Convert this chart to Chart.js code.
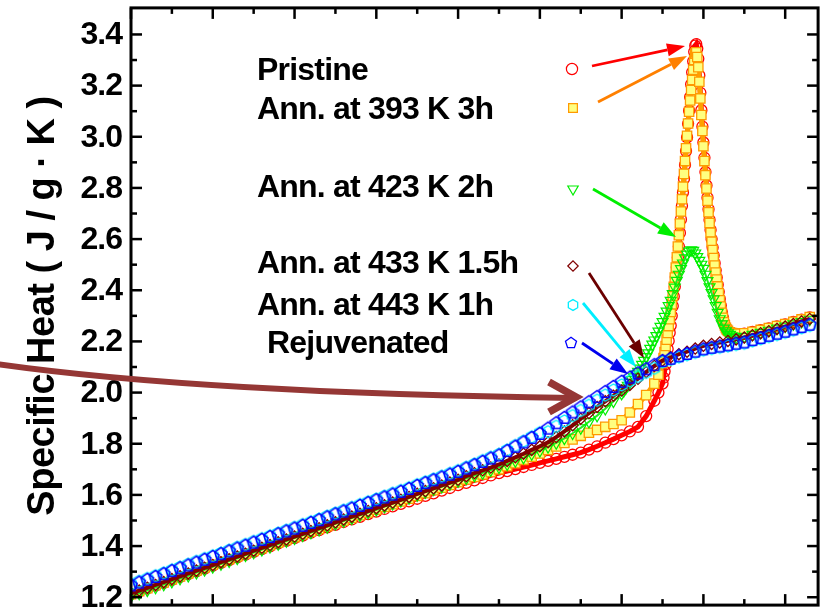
<!DOCTYPE html>
<html>
<head>
<meta charset="utf-8">
<script src="https://cdn.jsdelivr.net/npm/chart.js@4.4.0/dist/chart.umd.min.js"></script>
<style>
  html, body { margin: 0; padding: 0; background: #fff; }
  canvas { display: block; }
</style>
</head>
<body>
<canvas id="cpChart" width="826" height="613"></canvas>
<script>
// series names as printed on the figure
const seriesNames = ['Pristine', 'Ann. at 393 K 3h', 'Ann. at 423 K 2h', 'Ann. at 433 K 1.5h', 'Ann. at 443 K 1h', 'Rejuvenated'];

// temperature grids (K)
const tempLow = [300,302,304,306,308,310,312,314,316,318,320,322,324,326,328,330,332,334,336,338,340,342,344,346,348,350,352,354,356,358,360,362,364,366,368,370,372,374,376,378,380,382,384,386,388,390,392,394,396,398,400,402,404,406,408,410,412,414,416,418,420,422,424,426,428];
const tempTail = [430,432,434,436,438,440,442,444,446,448,450,452,454,456,458,460,462,464,466];
const tempFine = [430,430.25,430.5,430.75,431,431.25,431.5,431.75,432,432.25,432.5,432.75,433,433.25,433.5,433.75,434,434.25,434.5,434.75,435,435.25,435.5,435.75,436,436.25,436.5,436.75,437,437.25,437.5,437.75,438,438.25,438.5,438.75,439,439.25,439.5,439.75,440,440.25,440.5,440.75,441,441.25,441.5,441.75,442,442.25,442.5,442.75,443,443.25,443.5,443.75,444,444.25,444.5,444.75,445,445.25,445.5,445.75,446];
const tempHalf = [420.5,421,421.5,422,422.5,423,423.5,424,424.5,425,425.5,426,426.5,427,427.5,428,428.5,429,429.5,430,430.5,431,431.5,432,432.5,433,433.5,434,434.5,435,435.5,436,436.5,437,437.5,438,438.5,439,439.5,440,440.5,441,441.5,442,442.5,443,443.5,444,444.5,445,445.5,446,446.5,447,447.5,448];
const tempEnd = [450,452,454,456,458,460,462,464,466];

const tempCoarse = tempLow.concat(tempTail);
const tempPeak = tempLow.concat([429], tempFine, [446.5,447,447.5,448], tempEnd);
const tempGreen = tempLow.slice(0, 61).concat(tempHalf, tempEnd);

// specific heat (J/g.K)
const cpRejuvenated = [1.246,1.257,1.268,1.279,1.290,1.302,1.313,1.324,1.335,1.346,1.357,1.368,1.379,1.390,1.401,1.413,1.424,1.435,1.446,1.457,1.468,1.479,1.490,1.501,1.512,1.524,1.535,1.546,1.557,1.568,1.579,1.590,1.601,1.612,1.623,1.635,1.646,1.657,1.668,1.679,1.690,1.703,1.716,1.729,1.742,1.754,1.771,1.788,1.805,1.822,1.838,
  1.859,1.880,1.901,1.922,1.942,1.962,1.982,2.002,2.022,2.042,2.058,2.075,2.091,2.107,
  2.123,2.132,2.142,2.151,2.160,2.169,2.175,2.180,2.185,2.191,2.196,2.205,2.213,2.222,2.230,2.238,2.247,2.256,2.265];

const cpAnn443 = [1.251,1.262,1.273,1.284,1.295,1.307,1.318,1.329,1.340,1.351,1.362,1.373,1.384,1.395,1.406,1.418,1.429,1.440,1.451,1.462,1.473,1.484,1.495,1.506,1.517,1.529,1.540,1.551,1.562,1.573,1.584,1.595,1.606,1.617,1.628,1.640,1.651,1.662,1.673,1.684,1.695,1.708,1.721,1.734,1.747,1.759,1.776,1.793,1.810,1.827,1.843,
  1.847,1.868,1.889,1.910,1.930,1.950,1.970,1.990,2.010,2.030,2.046,2.063,2.079,2.095,
  2.120,2.129,2.139,2.148,2.157,2.166,2.172,2.177,2.182,2.188,2.193,2.202,2.210,2.219,2.227,2.235,2.244,2.253,2.262];

const cpAnn433 = [1.215,1.226,1.237,1.248,1.259,1.271,1.282,1.293,1.304,1.315,1.326,1.337,1.348,1.359,1.370,1.382,1.393,1.404,1.415,1.426,1.437,1.448,1.459,1.470,1.481,1.493,1.504,1.515,1.526,1.537,1.548,1.559,1.570,1.581,1.592,1.604,1.615,1.626,1.637,1.648,1.659,
  1.673,1.685,1.696,1.707,1.719,1.733,1.747,1.761,1.776,
  1.790,1.806,1.826,1.848,1.872,1.898,1.920,1.944,1.966,1.988,2.008,2.030,2.054,2.080,2.104,2.125,2.138,2.150,2.160,2.172,2.183,2.190,2.196,2.202,2.208,2.215,2.224,2.232,2.240,2.249,2.258,2.268,2.278,2.288];

const cpAnn423 = [1.204,1.215,1.227,1.238,1.250,1.261,1.273,1.284,1.296,1.307,1.319,1.330,1.341,1.352,1.364,1.375,1.386,1.397,1.408,1.420,1.431,1.442,1.453,1.464,1.475,1.487,1.498,1.509,1.520,1.531,1.542,1.554,1.565,1.577,1.588,1.600,1.611,1.622,1.632,1.643,1.654,1.665,1.676,1.686,1.697,1.708,1.720,1.733,1.746,1.760,1.773,1.788,1.803,1.821,1.841,1.862,1.886,1.910,1.937,1.966,1.996,
  2.006,2.017,2.028,2.039,2.050,2.061,2.072,2.082,2.095,2.110,2.125,2.140,2.155,2.172,2.189,2.205,2.222,2.240,2.258,2.277,2.297,2.318,2.339,2.360,2.386,2.412,2.438,2.462,2.484,2.506,2.526,2.541,2.552,2.557,2.555,2.545,2.531,2.516,2.501,2.485,2.462,2.437,2.413,2.390,2.366,2.339,2.313,2.288,2.268,2.251,2.241,2.233,2.227,2.221,2.217,2.215,
  2.219,2.227,2.235,2.243,2.251,2.259,2.268,2.277,2.286];

const cpAnn393 = [1.212,1.224,1.235,1.247,1.258,1.270,1.281,1.293,1.304,1.316,1.327,1.338,1.349,1.359,1.370,1.381,1.392,1.403,1.413,1.424,1.435,1.446,1.456,1.467,1.478,1.489,1.499,1.510,1.521,1.531,1.542,1.553,1.564,1.574,1.585,1.596,1.607,1.618,1.628,1.639,1.650,1.660,1.670,1.680,1.690,1.700,1.712,1.724,1.737,1.749,1.762,1.776,1.789,1.803,1.817,1.831,
  1.843,1.854,1.866,1.877,1.892,1.922,1.955,1.990,2.035,
  2.070,
  2.115,2.135,2.158,2.182,2.207,2.233,2.260,2.287,2.315,2.345,2.378,2.413,2.450,2.489,2.529,2.571,2.615,2.661,2.708,2.756,2.805,2.855,2.905,2.955,3.004,3.052,3.098,3.142,3.183,3.222,3.262,3.300,3.325,3.330,3.312,3.272,3.215,3.150,3.085,3.023,2.963,2.905,2.850,2.798,2.750,2.705,2.663,2.625,2.590,2.557,2.526,2.497,2.469,2.442,2.415,2.388,2.361,2.336,2.312,2.292,2.275,2.262,2.253,2.246,2.241,
  2.236,2.233,2.231,2.230,
  2.232,2.238,2.245,2.252,2.260,2.268,2.277,2.286,2.295];

const cpPristine = [1.212,1.223,1.234,1.245,1.256,1.268,1.279,1.290,1.301,1.312,1.323,1.334,1.345,1.356,1.366,1.377,1.388,1.399,1.410,1.420,1.431,1.441,1.452,1.462,1.473,1.483,1.494,1.504,1.514,1.525,1.535,1.545,1.555,1.565,1.575,1.585,1.596,1.606,1.617,1.627,1.638,1.647,1.657,1.666,1.676,1.685,1.693,1.701,1.709,1.717,1.725,1.733,1.741,1.749,1.757,1.765,1.777,1.790,1.804,1.818,1.833,1.848,1.866,1.908,1.968,
  2.000,
  2.035,2.058,2.083,2.110,2.140,2.170,2.202,2.234,2.262,2.300,2.338,2.376,2.414,2.452,2.490,2.528,2.571,2.624,2.677,2.730,2.783,2.836,2.890,2.944,2.998,3.051,3.102,3.155,3.205,3.252,3.295,3.332,3.356,3.362,3.345,3.305,3.240,3.172,3.104,3.040,2.978,2.918,2.862,2.810,2.762,2.717,2.675,2.636,2.600,2.567,2.536,2.506,2.478,2.450,2.422,2.394,2.366,2.340,2.315,2.294,2.276,2.262,2.252,2.244,2.239,
  2.233,2.230,2.228,2.228,
  2.230,2.237,2.244,2.251,2.259,2.267,2.276,2.285,2.294];

// axis ticks
const yMajorTicks = [1.2,1.4,1.6,1.8,2.0,2.2,2.4,2.6,2.8,3.0,3.2,3.4];
const yMinorTicks = [1.3,1.5,1.7,1.9,2.1,2.3,2.5,2.7,2.9,3.1,3.3];
const xMajorTicks = [300,320,340,360,380,400,420,440,460];
const xMinorTicks = [310,330,350,370,390,410,430,450];

function polyMarker(sides, r, color, lw) {
  const c = document.createElement('canvas');
  c.width = 18; c.height = 18;
  const g = c.getContext('2d');
  g.strokeStyle = color;
  g.lineWidth = lw;
  g.beginPath();
  for (let i = 0; i < sides; i++) {
    const a = -Math.PI / 2 + i * 2 * Math.PI / sides;
    const px = 9 + r * Math.cos(a), py = 9 + r * Math.sin(a);
    if (i === 0) g.moveTo(px, py); else g.lineTo(px, py);
  }
  g.closePath();
  g.stroke();
  return c;
}
const pentagonMark = polyMarker(5, 6.6, '#0000ff', 1.5);
const hexagonMark = polyMarker(6, 6, '#00eeff', 1.4);
const pentagonKey = polyMarker(5, 5.8, '#0000ff', 1.3);
const hexagonKey = polyMarker(6, 5.4, '#00eeff', 1.3);

const pts = (t, v) => v.map((y, i) => ({ x: t[i], y: y }));

const markerStyles = [
  { pointStyle: 'circle', radius: 5.5, rotation: 0, border: '#ff0000', fill: 'rgba(0,0,0,0)', bw: 1.3 },
  { pointStyle: 'rect', radius: 6.6, rotation: 0, border: '#ff9900', fill: '#ffff80', bw: 1.3 },
  { pointStyle: 'triangle', radius: 6.3, rotation: 180, border: '#00ee00', fill: 'rgba(0,0,0,0)', bw: 1.2 },
  { pointStyle: 'rectRot', radius: 5.6, rotation: 0, border: '#800000', fill: 'rgba(0,0,0,0)', bw: 1.3 },
  { pointStyle: hexagonMark, radius: 6, rotation: 0, border: '#00eeff', fill: 'rgba(0,0,0,0)', bw: 1 },
  { pointStyle: pentagonMark, radius: 6, rotation: 0, border: '#0000ff', fill: 'rgba(0,0,0,0)', bw: 1 }
];
const keyStyles = ['circle', 'rect', 'triangle', 'rectRot', hexagonKey, pentagonKey];
const keyRadius = [5.6, 6.2, 6, 5.2, 6, 6];

function makeSet(i, data, order, lineColor, lineWidth) {
  const m = markerStyles[i];
  return {
    label: seriesNames[i],
    data: data,
    order: order,
    showLine: !!lineColor,
    borderColor: lineColor || m.border,
    borderWidth: lineWidth || 0,
    tension: 0,
    pointStyle: m.pointStyle,
    pointRadius: m.radius,
    pointRotation: m.rotation,
    pointBorderColor: m.border,
    pointBackgroundColor: m.fill,
    pointBorderWidth: m.bw
  };
}

const legendText = [
  [seriesNames[0], 257, 80],
  [seriesNames[1], 257, 119],
  [seriesNames[2], 257, 197],
  [seriesNames[3], 257, 273],
  [seriesNames[4], 257, 315],
  [seriesNames[5], 267, 353]
];
const legendMarks = [[572, 69], [573, 108], [573, 189], [573, 266], [573, 305], [571, 343]];
const arrows = [
  [592, 66, 685, 46, '#ff0000'],
  [598, 102, 687, 56, '#ff8000'],
  [593, 189, 676, 237, '#00ee00'],
  [589, 273, 644, 358, '#6b0000'],
  [583, 303, 636, 367, '#00eeff'],
  [582, 343, 628, 374, '#0000ee']
];

function drawArrow(ctx, x1, y1, x2, y2, color) {
  const ang = Math.atan2(y2 - y1, x2 - x1), L = 18, W = 6.5;
  const bx = x2 - L * Math.cos(ang), by = y2 - L * Math.sin(ang);
  ctx.strokeStyle = color;
  ctx.fillStyle = color;
  ctx.lineWidth = 2.8;
  ctx.beginPath(); ctx.moveTo(x1, y1); ctx.lineTo(bx, by); ctx.stroke();
  ctx.beginPath();
  ctx.moveTo(x2, y2);
  ctx.lineTo(bx + W * Math.sin(ang), by - W * Math.cos(ang));
  ctx.lineTo(bx - W * Math.sin(ang), by + W * Math.cos(ang));
  ctx.closePath(); ctx.fill();
}

const frameAndNotes = {
  id: 'frameAndNotes',
  afterDraw(chart) {
    const { ctx, chartArea: a, scales: { x, y } } = chart;
    ctx.save();
    ctx.strokeStyle = '#000';
    ctx.lineWidth = 2.5;
    const seg = (x1, y1, x2, y2) => { ctx.beginPath(); ctx.moveTo(x1, y1); ctx.lineTo(x2, y2); ctx.stroke(); };
    yMajorTicks.forEach(v => { const p = y.getPixelForValue(v); seg(a.left, p, a.left + 11, p); seg(a.right, p, a.right - 11, p); });
    yMinorTicks.forEach(v => { const p = y.getPixelForValue(v); seg(a.left, p, a.left + 6, p); seg(a.right, p, a.right - 6, p); });
    xMajorTicks.forEach(v => { const p = x.getPixelForValue(v); seg(p, a.bottom, p, a.bottom - 11); seg(p, a.top, p, a.top + 11); });
    xMinorTicks.forEach(v => { const p = x.getPixelForValue(v); seg(p, a.bottom, p, a.bottom - 6); seg(p, a.top, p, a.top + 6); });
    ctx.lineWidth = 3;
    ctx.strokeRect(a.left, a.top, a.right - a.left, a.bottom - a.top);

    // y tick labels
    ctx.fillStyle = '#000';
    ctx.font = 'bold 32px "Liberation Sans", Arial, sans-serif';
    ctx.letterSpacing = '-1px';
    ctx.textAlign = 'right';
    ctx.textBaseline = 'middle';
    yMajorTicks.forEach(v => ctx.fillText(v.toFixed(1), a.left - 9, y.getPixelForValue(v) + 1));

    // y title
    ctx.save();
    ctx.translate(54, 306);
    ctx.rotate(-Math.PI / 2);
    ctx.font = 'bold 38px "Liberation Sans", Arial, sans-serif';
    ctx.letterSpacing = '-0.5px';
    ctx.textAlign = 'center';
    ctx.textBaseline = 'alphabetic';
    ctx.fillText('Specific Heat ( J / g \u00b7 K )', 0, 0);
    ctx.restore();

    // legend text
    ctx.font = 'bold 32px "Liberation Sans", Arial, sans-serif';
    ctx.letterSpacing = '-0.8px';
    ctx.textAlign = 'left';
    ctx.textBaseline = 'alphabetic';
    legendText.forEach(([t, tx, ty]) => ctx.fillText(t, tx, ty));
    ctx.letterSpacing = '0px';

    // legend markers
    legendMarks.forEach(([mx, my], i) => {
      const m = markerStyles[i];
      ctx.strokeStyle = m.border;
      ctx.fillStyle = m.fill;
      ctx.lineWidth = 1.2;
      Chart.helpers.drawPoint(ctx, { pointStyle: keyStyles[i], radius: keyRadius[i], rotation: m.rotation, borderWidth: 1.2 }, mx, my);
    });

    // arrows
    arrows.forEach(([x1, y1, x2, y2, c]) => drawArrow(ctx, x1, y1, x2, y2, c));

    // big curved arrow
    ctx.strokeStyle = '#953735';
    ctx.lineWidth = 6;
    ctx.lineCap = 'butt';
    ctx.beginPath();
    ctx.moveTo(-4, 364);
    ctx.quadraticCurveTo(200, 393, 574, 398);
    ctx.stroke();
    ctx.lineWidth = 7.5;
    ctx.lineJoin = 'miter';
    ctx.beginPath();
    ctx.moveTo(549, 382);
    ctx.lineTo(576, 397);
    ctx.lineTo(549, 412);
    ctx.stroke();
    ctx.restore();
  }
};

new Chart(document.getElementById('cpChart').getContext('2d'), {
  type: 'line',
  data: {
    datasets: [
      makeSet(0, pts(tempPeak, cpPristine), 6, '#ff0000', 5),
      makeSet(1, pts(tempPeak, cpAnn393), 5, '#ffa000', 5),
      makeSet(2, pts(tempGreen, cpAnn423), 4, '#22ee22', 2),
      makeSet(3, pts(tempCoarse, cpAnn433), 3, '#800000', 4),
      makeSet(4, pts(tempCoarse, cpAnn443), 2),
      makeSet(5, pts(tempCoarse, cpRejuvenated), 1)
    ]
  },
  options: {
    responsive: false,
    animation: false,
    events: [],
    layout: { padding: { left: 131, right: 6, top: 5, bottom: 1 } },
    scales: {
      x: { type: 'linear', display: false, min: 300, max: 468.05 },
      y: { type: 'linear', display: false, min: 1.1692, max: 3.5038 }
    },
    plugins: { legend: { display: false }, tooltip: { enabled: false } }
  },
  plugins: [frameAndNotes]
});
</script>
</body>
</html>
